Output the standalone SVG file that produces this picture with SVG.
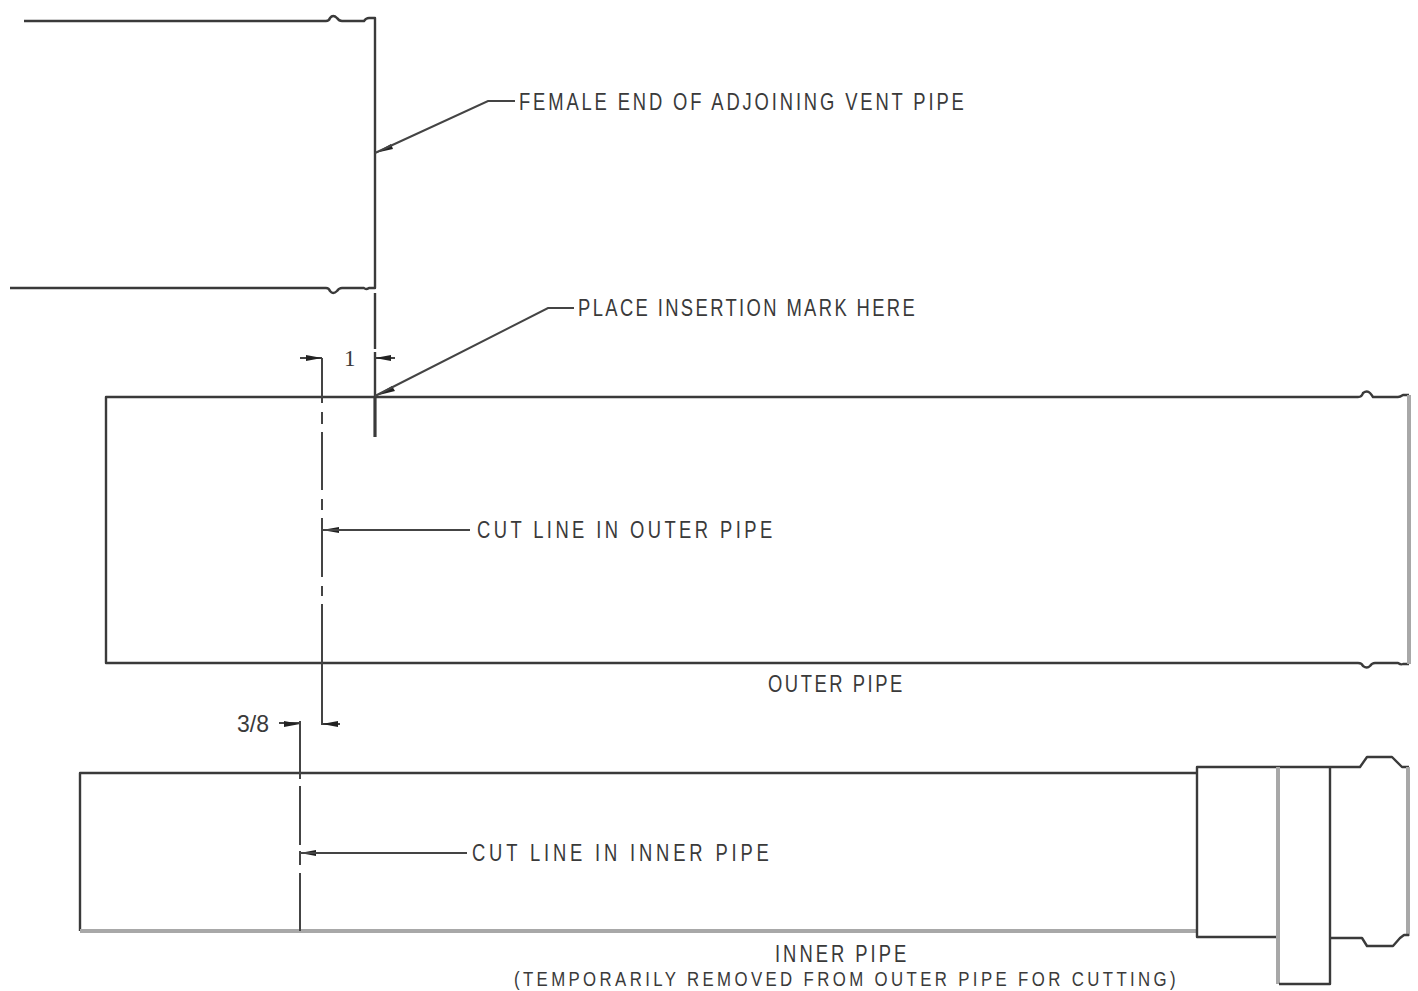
<svg xmlns="http://www.w3.org/2000/svg" width="1418" height="991" viewBox="0 0 1418 991">
<style>
.l{fill:none;stroke:#3a3a3a;stroke-width:2.4;stroke-linejoin:round}
.g{fill:none;stroke:#a8a8a8;stroke-width:4}
.d{fill:none;stroke:#444;stroke-width:2}
.h{fill:#222}
text{font-family:"Liberation Sans",Arial,sans-serif;font-size:23px;fill:#3a3a3a}
.s{font-size:21px}
</style>
<rect width="1418" height="991" fill="#fff"/>
<g id="adjoining-vent-pipe">
<path class="l" d="M24 21H326Q329 21 330 18Q333 14 337 18Q339 21 342 21H364Q366 18 369 18H375V288H369Q366 290 364 288H342Q339 288 337 291Q333 295 330 291Q329 288 326 288H10"/>
</g>
<g id="outer-pipe">
<path class="l" d="M1409 395H1403Q1400 397 1398 397H1373Q1371 394 1370 393Q1367 390 1363 393Q1362 397 1358 397H106V663H1358Q1362 663 1363 666Q1367 669 1370 666Q1372 663 1375 663H1398Q1401 665 1403 664H1409"/>
<path class="g" d="M1409 395V664"/>
</g>
<g id="inner-pipe">
<path class="l" d="M1197 773H80V931"/>
<path class="g" d="M80 931H1197"/>
<path class="l" d="M1197 931V767H1360L1367 757H1392L1402 767H1409"/>
<path class="l" d="M1197 931V937H1278"/>
<path class="g" d="M1408 767V936M1278 767V984"/>
<path class="l" d="M1330 767V984H1279"/>
<path class="l" d="M1330 938H1362L1367 946H1393L1400 938L1404 935H1409"/>
</g>
<g id="connectors">
<path class="l" d="M375 293V349M375 352V437"/>
<path class="l" style="stroke-width:3" d="M375 396V437"/>
<path class="d" d="M322 358V403M322 412V424M322 432V490M322 499V510M322 518V577M322 586V596M322 604V724H340"/>
<path class="d" d="M300 721V779M300 786V845M300 851V865M300 873V931"/>
<path class="d" d="M300 723H279M322 358H300M375 358H395"/>
<path class="h" d="M322 358l-16-3v6zM375 358l16-3v6zM322 724l16-3v6zM300 724l-16-3v6zM375 396l17-10 3 5zM375 153l16-9 2 5zM322 530l17-3v6zM300 853l16-3v6z"/>
<path class="d" d="M375 153L488 101H515"/>
<path class="d" d="M375 396L548 308H574"/>
<path class="d" d="M322 530H470"/>
<path class="d" d="M300 853H467M300 853V860"/>
</g>
<g id="labels">
<text transform="translate(519 110) scale(.8 1)" textLength="556" lengthAdjust="spacing">FEMALE END OF ADJOINING VENT PIPE</text>
<text transform="translate(578 316) scale(.8 1)" textLength="421" lengthAdjust="spacing">PLACE INSERTION MARK HERE</text>
<text x="344" y="366" style="font-family:'Liberation Serif',serif">1</text>
<text transform="translate(477 538) scale(.8 1)" textLength="369" lengthAdjust="spacing">CUT LINE IN OUTER PIPE</text>
<text transform="translate(768 692) scale(.8 1)" textLength="168" lengthAdjust="spacing">OUTER PIPE</text>
<text transform="translate(237 732) scale(.8 1)" textLength="40" lengthAdjust="spacingAndGlyphs">3/8</text>
<text transform="translate(472 861) scale(.8 1)" textLength="371" lengthAdjust="spacing">CUT LINE IN INNER PIPE</text>
<text transform="translate(775 962) scale(.8 1)" textLength="164" lengthAdjust="spacing">INNER PIPE</text>
<text class="s" transform="translate(514 986) scale(.8 1)" textLength="827" lengthAdjust="spacing">(TEMPORARILY REMOVED FROM OUTER PIPE FOR CUTTING)</text>
</g>
</svg>
